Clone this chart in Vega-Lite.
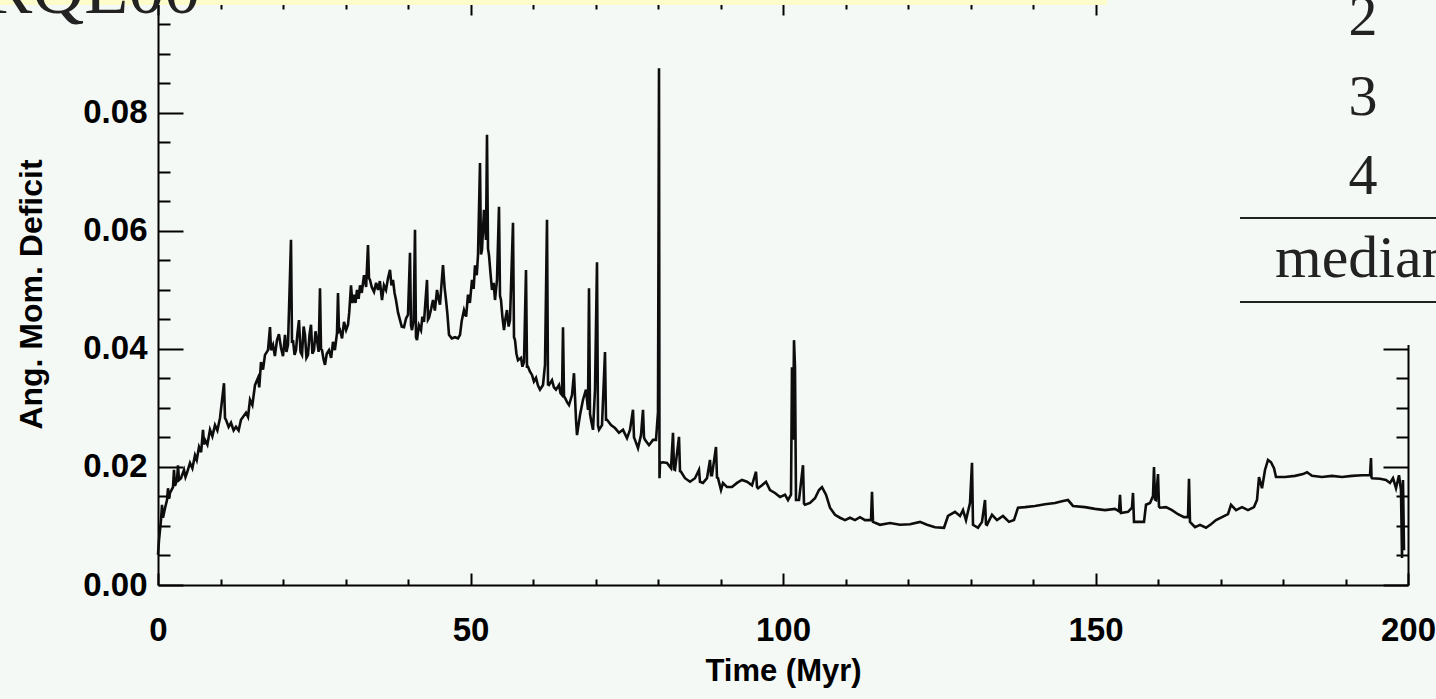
{
  "$schema": "https://vega.github.io/schema/vega-lite/v6.json",
  "width": 1250,
  "height": 582,
  "autosize": {"type": "none"},
  "padding": {"left": 158, "top": 3, "right": 28, "bottom": 114},
  "background": "#f5f9f6",
  "config": {"view": {"stroke": null}},
  "datasets": {
    "series": [
      {"t":0.0,"v":0.0051},{"t":0.16,"v":0.0076},{"t":0.32,"v":0.0093},{"t":0.48,"v":0.011},{"t":0.64,"v":0.0136},{"t":0.8,"v":0.0114},{"t":1.12,"v":0.013},{"t":1.44,"v":0.0144},{"t":1.6,"v":0.0164},{"t":1.76,"v":0.0146},{"t":1.92,"v":0.0156},{"t":2.4,"v":0.0166},{"t":2.56,"v":0.0195},{"t":2.72,"v":0.0168},{"t":3.04,"v":0.0178},{"t":3.2,"v":0.0203},{"t":3.36,"v":0.0178},{"t":3.68,"v":0.0181},{"t":4.16,"v":0.0195},{"t":4.4,"v":0.0183},{"t":4.64,"v":0.019},{"t":5.12,"v":0.0207},{"t":5.5,"v":0.0198},{"t":5.92,"v":0.022},{"t":6.2,"v":0.0212},{"t":6.56,"v":0.0234},{"t":6.9,"v":0.0225},{"t":7.2,"v":0.0263},{"t":7.36,"v":0.0238},{"t":7.52,"v":0.0246},{"t":7.9,"v":0.0238},{"t":8.32,"v":0.0263},{"t":8.7,"v":0.0252},{"t":9.12,"v":0.0271},{"t":9.5,"v":0.0262},{"t":9.92,"v":0.0283},{"t":10.56,"v":0.0342},{"t":10.72,"v":0.0283},{"t":10.88,"v":0.028},{"t":11.3,"v":0.0268},{"t":11.68,"v":0.0275},{"t":12.1,"v":0.0262},{"t":12.48,"v":0.0268},{"t":12.9,"v":0.0262},{"t":13.28,"v":0.028},{"t":14.08,"v":0.0292},{"t":14.4,"v":0.0285},{"t":14.72,"v":0.0314},{"t":15.1,"v":0.0305},{"t":15.52,"v":0.0339},{"t":16.0,"v":0.0351},{"t":16.2,"v":0.0335},{"t":16.48,"v":0.0378},{"t":16.8,"v":0.0365},{"t":17.12,"v":0.039},{"t":17.6,"v":0.0398},{"t":17.92,"v":0.0437},{"t":18.08,"v":0.0398},{"t":18.4,"v":0.0407},{"t":18.7,"v":0.0388},{"t":19.04,"v":0.0415},{"t":19.35,"v":0.0425},{"t":19.68,"v":0.0402},{"t":20.0,"v":0.0388},{"t":20.32,"v":0.0424},{"t":20.55,"v":0.0395},{"t":20.8,"v":0.0407},{"t":21.28,"v":0.0585},{"t":21.44,"v":0.041},{"t":21.6,"v":0.0415},{"t":21.85,"v":0.039},{"t":22.08,"v":0.0398},{"t":22.3,"v":0.0425},{"t":22.56,"v":0.0449},{"t":22.8,"v":0.0395},{"t":23.04,"v":0.039},{"t":23.3,"v":0.0438},{"t":23.52,"v":0.0424},{"t":23.75,"v":0.0385},{"t":24.0,"v":0.039},{"t":24.25,"v":0.0425},{"t":24.48,"v":0.0441},{"t":24.7,"v":0.0392},{"t":24.96,"v":0.0398},{"t":25.2,"v":0.043},{"t":25.44,"v":0.0415},{"t":25.7,"v":0.0395},{"t":25.92,"v":0.0503},{"t":26.08,"v":0.04},{"t":26.24,"v":0.0398},{"t":26.5,"v":0.0382},{"t":26.72,"v":0.0373},{"t":27.0,"v":0.0392},{"t":27.36,"v":0.0398},{"t":27.7,"v":0.0385},{"t":28.0,"v":0.0412},{"t":28.3,"v":0.0398},{"t":28.64,"v":0.0427},{"t":28.8,"v":0.0495},{"t":28.96,"v":0.043},{"t":29.12,"v":0.0432},{"t":29.45,"v":0.0418},{"t":29.76,"v":0.0446},{"t":30.1,"v":0.0432},{"t":30.4,"v":0.0441},{"t":30.6,"v":0.0462},{"t":30.88,"v":0.0508},{"t":31.1,"v":0.0478},{"t":31.36,"v":0.0492},{"t":31.6,"v":0.0478},{"t":31.84,"v":0.05},{"t":32.1,"v":0.0485},{"t":32.32,"v":0.0508},{"t":32.6,"v":0.0495},{"t":32.96,"v":0.0525},{"t":33.3,"v":0.0505},{"t":33.6,"v":0.0576},{"t":33.76,"v":0.052},{"t":33.92,"v":0.0517},{"t":34.2,"v":0.0505},{"t":34.56,"v":0.0497},{"t":34.9,"v":0.0512},{"t":35.2,"v":0.05},{"t":35.5,"v":0.0515},{"t":35.84,"v":0.0483},{"t":36.15,"v":0.0508},{"t":36.48,"v":0.05},{"t":36.8,"v":0.052},{"t":37.12,"v":0.0534},{"t":37.35,"v":0.0508},{"t":37.6,"v":0.0517},{"t":37.85,"v":0.0495},{"t":38.08,"v":0.0483},{"t":38.4,"v":0.0462},{"t":38.72,"v":0.0449},{"t":39.0,"v":0.0438},{"t":39.36,"v":0.0437},{"t":39.7,"v":0.0452},{"t":40.0,"v":0.0458},{"t":40.32,"v":0.0563},{"t":40.48,"v":0.044},{"t":40.64,"v":0.0432},{"t":40.9,"v":0.0448},{"t":41.12,"v":0.0602},{"t":41.28,"v":0.042},{"t":41.44,"v":0.0415},{"t":41.75,"v":0.044},{"t":42.08,"v":0.0432},{"t":42.3,"v":0.0455},{"t":42.56,"v":0.0446},{"t":43.04,"v":0.0517},{"t":43.2,"v":0.045},{"t":43.36,"v":0.0453},{"t":43.7,"v":0.0468},{"t":44.0,"v":0.0483},{"t":44.3,"v":0.0465},{"t":44.64,"v":0.05},{"t":44.9,"v":0.0485},{"t":45.12,"v":0.0475},{"t":45.4,"v":0.0515},{"t":45.6,"v":0.0542},{"t":45.85,"v":0.0505},{"t":46.08,"v":0.0483},{"t":46.3,"v":0.046},{"t":46.56,"v":0.0424},{"t":47.0,"v":0.0418},{"t":47.52,"v":0.042},{"t":48.0,"v":0.0418},{"t":48.32,"v":0.0424},{"t":48.6,"v":0.0448},{"t":48.96,"v":0.0466},{"t":49.3,"v":0.0455},{"t":49.6,"v":0.0492},{"t":49.9,"v":0.0478},{"t":50.24,"v":0.0517},{"t":50.5,"v":0.0502},{"t":50.72,"v":0.0542},{"t":51.0,"v":0.0525},{"t":51.2,"v":0.0559},{"t":51.52,"v":0.0715},{"t":51.68,"v":0.056},{"t":51.84,"v":0.0568},{"t":52.16,"v":0.0636},{"t":52.48,"v":0.0585},{"t":52.64,"v":0.0763},{"t":52.8,"v":0.057},{"t":52.96,"v":0.0559},{"t":53.2,"v":0.0528},{"t":53.44,"v":0.05},{"t":53.7,"v":0.0512},{"t":53.92,"v":0.0483},{"t":54.24,"v":0.0517},{"t":54.56,"v":0.0641},{"t":54.72,"v":0.049},{"t":54.88,"v":0.0483},{"t":55.1,"v":0.0455},{"t":55.36,"v":0.0432},{"t":55.6,"v":0.0452},{"t":55.84,"v":0.0466},{"t":56.1,"v":0.0438},{"t":56.32,"v":0.0449},{"t":56.8,"v":0.0614},{"t":56.96,"v":0.042},{"t":57.12,"v":0.0415},{"t":57.35,"v":0.0392},{"t":57.6,"v":0.0381},{"t":58.08,"v":0.0385},{"t":58.3,"v":0.037},{"t":58.56,"v":0.0378},{"t":58.88,"v":0.0534},{"t":59.04,"v":0.037},{"t":59.2,"v":0.037},{"t":59.5,"v":0.0362},{"t":59.84,"v":0.0356},{"t":60.15,"v":0.0345},{"t":60.48,"v":0.0351},{"t":60.8,"v":0.0338},{"t":61.12,"v":0.0331},{"t":61.6,"v":0.0339},{"t":61.92,"v":0.0373},{"t":62.24,"v":0.0619},{"t":62.4,"v":0.034},{"t":62.56,"v":0.0339},{"t":63.04,"v":0.0347},{"t":63.35,"v":0.0335},{"t":63.68,"v":0.0331},{"t":64.16,"v":0.0339},{"t":64.4,"v":0.0325},{"t":64.64,"v":0.0322},{"t":64.8,"v":0.0437},{"t":64.96,"v":0.032},{"t":65.12,"v":0.0317},{"t":65.45,"v":0.031},{"t":65.76,"v":0.0305},{"t":66.24,"v":0.0322},{"t":66.56,"v":0.0359},{"t":66.88,"v":0.028},{"t":67.04,"v":0.0254},{"t":67.52,"v":0.0288},{"t":68.0,"v":0.0314},{"t":68.48,"v":0.0331},{"t":68.8,"v":0.0297},{"t":68.96,"v":0.0503},{"t":69.12,"v":0.029},{"t":69.28,"v":0.028},{"t":69.6,"v":0.0263},{"t":69.92,"v":0.0331},{"t":70.24,"v":0.0547},{"t":70.4,"v":0.027},{"t":70.56,"v":0.0263},{"t":71.04,"v":0.0271},{"t":71.52,"v":0.0395},{"t":71.68,"v":0.028},{"t":71.84,"v":0.028},{"t":72.48,"v":0.0271},{"t":73.12,"v":0.0266},{"t":73.76,"v":0.0258},{"t":74.4,"v":0.0263},{"t":75.04,"v":0.0249},{"t":75.52,"v":0.0263},{"t":76.0,"v":0.0297},{"t":76.16,"v":0.025},{"t":76.32,"v":0.0246},{"t":76.8,"v":0.0232},{"t":77.28,"v":0.0254},{"t":77.6,"v":0.0297},{"t":77.76,"v":0.025},{"t":77.92,"v":0.0246},{"t":78.56,"v":0.0237},{"t":79.2,"v":0.0246},{"t":79.68,"v":0.0246},{"t":80.0,"v":0.0293},{"t":80.16,"v":0.0876},{"t":80.24,"v":0.0181},{"t":80.32,"v":0.0207},{"t":80.8,"v":0.0208},{"t":81.44,"v":0.0207},{"t":82.08,"v":0.0198},{"t":82.4,"v":0.0258},{"t":82.56,"v":0.0196},{"t":82.72,"v":0.0195},{"t":83.36,"v":0.0251},{"t":83.52,"v":0.0193},{"t":83.68,"v":0.0192},{"t":84.32,"v":0.0181},{"t":85.12,"v":0.0175},{"t":85.92,"v":0.0181},{"t":86.56,"v":0.0195},{"t":86.72,"v":0.0175},{"t":87.2,"v":0.0173},{"t":87.84,"v":0.0181},{"t":88.32,"v":0.0212},{"t":88.48,"v":0.0186},{"t":88.64,"v":0.0186},{"t":89.28,"v":0.0234},{"t":89.44,"v":0.0182},{"t":89.6,"v":0.0181},{"t":90.08,"v":0.0161},{"t":90.4,"v":0.0173},{"t":91.04,"v":0.0166},{"t":91.84,"v":0.0166},{"t":92.64,"v":0.0173},{"t":93.44,"v":0.0178},{"t":94.24,"v":0.0175},{"t":95.04,"v":0.0169},{"t":95.68,"v":0.0192},{"t":95.84,"v":0.0166},{"t":96.0,"v":0.0164},{"t":96.64,"v":0.0169},{"t":97.28,"v":0.0175},{"t":97.92,"v":0.0161},{"t":98.72,"v":0.0156},{"t":99.52,"v":0.0149},{"t":100.32,"v":0.0153},{"t":100.8,"v":0.0144},{"t":101.28,"v":0.0153},{"t":101.44,"v":0.0369},{"t":101.6,"v":0.0246},{"t":101.76,"v":0.0415},{"t":101.92,"v":0.0369},{"t":102.08,"v":0.0144},{"t":102.56,"v":0.0144},{"t":103.2,"v":0.0203},{"t":103.36,"v":0.0138},{"t":103.52,"v":0.0136},{"t":104.32,"v":0.0139},{"t":105.12,"v":0.0147},{"t":105.76,"v":0.0161},{"t":106.24,"v":0.0166},{"t":106.88,"v":0.0153},{"t":107.52,"v":0.0131},{"t":108.32,"v":0.0119},{"t":109.12,"v":0.0114},{"t":109.92,"v":0.011},{"t":110.72,"v":0.0114},{"t":111.52,"v":0.011},{"t":112.32,"v":0.0115},{"t":113.12,"v":0.011},{"t":114.08,"v":0.011},{"t":114.24,"v":0.0158},{"t":114.4,"v":0.0107},{"t":115.52,"v":0.0102},{"t":117.12,"v":0.0105},{"t":118.72,"v":0.0102},{"t":120.32,"v":0.0103},{"t":121.92,"v":0.0107},{"t":123.04,"v":0.0102},{"t":124.32,"v":0.0098},{"t":125.76,"v":0.0097},{"t":126.4,"v":0.0117},{"t":127.52,"v":0.0124},{"t":128.32,"v":0.0117},{"t":128.8,"v":0.0127},{"t":129.28,"v":0.011},{"t":129.92,"v":0.0139},{"t":130.24,"v":0.0207},{"t":130.4,"v":0.0102},{"t":131.2,"v":0.0097},{"t":131.84,"v":0.0107},{"t":132.32,"v":0.0144},{"t":132.48,"v":0.0103},{"t":132.64,"v":0.0102},{"t":133.44,"v":0.0119},{"t":134.24,"v":0.011},{"t":135.2,"v":0.0117},{"t":136.16,"v":0.0107},{"t":136.96,"v":0.011},{"t":137.6,"v":0.0131},{"t":138.72,"v":0.0132},{"t":140.32,"v":0.0134},{"t":141.92,"v":0.0137},{"t":143.52,"v":0.0139},{"t":144.64,"v":0.0142},{"t":145.6,"v":0.0144},{"t":146.4,"v":0.0134},{"t":148.32,"v":0.0132},{"t":149.92,"v":0.0129},{"t":151.52,"v":0.0127},{"t":153.12,"v":0.0129},{"t":153.76,"v":0.0125},{"t":153.92,"v":0.0153},{"t":154.08,"v":0.0122},{"t":155.2,"v":0.0124},{"t":155.84,"v":0.0131},{"t":156.0,"v":0.0156},{"t":156.16,"v":0.0107},{"t":157.76,"v":0.0107},{"t":158.08,"v":0.0136},{"t":158.72,"v":0.0139},{"t":159.2,"v":0.0151},{"t":159.36,"v":0.02},{"t":159.52,"v":0.0145},{"t":159.68,"v":0.0144},{"t":160.0,"v":0.0188},{"t":160.16,"v":0.0133},{"t":160.32,"v":0.0131},{"t":161.28,"v":0.0132},{"t":162.24,"v":0.0127},{"t":163.2,"v":0.012},{"t":164.16,"v":0.0115},{"t":164.8,"v":0.0115},{"t":164.96,"v":0.018},{"t":165.12,"v":0.0107},{"t":165.92,"v":0.0098},{"t":166.72,"v":0.0102},{"t":167.68,"v":0.0097},{"t":168.48,"v":0.0103},{"t":169.28,"v":0.011},{"t":170.24,"v":0.0115},{"t":171.2,"v":0.012},{"t":171.68,"v":0.0136},{"t":172.48,"v":0.0127},{"t":173.44,"v":0.0132},{"t":174.4,"v":0.0127},{"t":175.36,"v":0.0132},{"t":175.84,"v":0.0144},{"t":176.16,"v":0.0183},{"t":176.64,"v":0.0164},{"t":177.12,"v":0.0195},{"t":177.6,"v":0.0212},{"t":178.08,"v":0.0208},{"t":178.56,"v":0.0198},{"t":178.88,"v":0.0183},{"t":180.32,"v":0.0183},{"t":181.92,"v":0.0185},{"t":183.2,"v":0.0188},{"t":183.84,"v":0.0191},{"t":184.64,"v":0.0185},{"t":186.24,"v":0.0183},{"t":187.84,"v":0.0185},{"t":189.44,"v":0.0183},{"t":191.04,"v":0.0185},{"t":192.64,"v":0.0186},{"t":193.92,"v":0.0186},{"t":194.08,"v":0.0215},{"t":194.16,"v":0.0182},{"t":194.24,"v":0.0181},{"t":195.52,"v":0.018},{"t":196.48,"v":0.0178},{"t":197.12,"v":0.0173},{"t":197.6,"v":0.0181},{"t":198.08,"v":0.0164},{"t":198.56,"v":0.0186},{"t":198.88,"v":0.0161},{"t":199.04,"v":0.0046},{"t":199.2,"v":0.0178},{"t":199.36,"v":0.0059}
    ]
  },
  "resolve": {"axis": {"x": "independent", "y": "independent"}},
  "layer": [
    {
      "data": {"name": "series"},
      "mark": {"type": "line", "color": "#0d0d0d", "strokeWidth": 2.6, "clip": false},
      "encoding": {
        "x": {"field": "t", "type": "quantitative", "scale": {"domain": [0, 200], "nice": false, "zero": false},
          "axis": {"orient": "bottom", "title": "Time (Myr)", "values": [0,10,20,30,40,50,60,70,80,90,100,110,120,130,140,150,160,170,180,190,200],
            "format": "d", "labelExpr": "datum.value % 50 === 0 ? datum.label : ''",
            "tickSize": {"condition": {"test": "datum.value % 50 === 0", "value": -12}, "value": -6},
            "tickColor": "#000", "tickWidth": 2, "domainColor": "#000", "domainWidth": 2, "grid": false,
            "labelFont": "Liberation Sans", "labelFontWeight": "bold", "labelFontSize": 33, "labelColor": "#000",
            "labelPadding": 41, "labelOverlap": false, "labelFlush": false, "labelBound": false,
            "titleFont": "Liberation Sans", "titleFontWeight": "bold", "titleFontSize": 31, "titleColor": "#000", "titlePadding": 3}},
        "y": {"field": "v", "type": "quantitative", "scale": {"domain": [0, 0.09864], "nice": false, "zero": false},
          "axis": {"orient": "left", "title": "Ang. Mom. Deficit", "values": [0,0.005,0.01,0.015,0.02,0.025,0.03,0.035,0.04,0.045,0.05,0.055,0.06,0.065,0.07,0.075,0.08,0.085,0.09,0.095],
            "format": ".2f", "labelExpr": "round(datum.value*1000) % 20 === 0 ? datum.label : ''",
            "tickSize": {"condition": {"test": "round(datum.value*1000) % 20 === 0", "value": -25}, "value": -12},
            "tickColor": "#000", "tickWidth": 2, "domainColor": "#000", "domainWidth": 2, "grid": false,
            "labelFont": "Liberation Sans", "labelFontWeight": "bold", "labelFontSize": 33, "labelColor": "#000",
            "labelPadding": 36, "labelOverlap": false, "labelFlush": false, "labelBound": false,
            "titleFont": "Liberation Sans", "titleFontWeight": "bold", "titleFontSize": 32, "titleColor": "#000", "titlePadding": 34}}
      }
    },
    {
      "data": {"name": "series"},
      "mark": {"type": "line", "opacity": 0},
      "encoding": {
        "x": {"field": "t", "type": "quantitative", "scale": {"domain": [0, 200], "nice": false, "zero": false},
          "axis": {"orient": "top", "title": null, "labels": false, "values": [0,10,20,30,40,50,60,70,80,90,100,110,120,130,140,150,160,170,180,190,200],
            "tickSize": {"condition": {"test": "datum.value % 50 === 0", "value": -12}, "value": -6},
            "tickColor": "#000", "tickWidth": 2, "domainColor": "#000", "domainWidth": 2, "grid": false}},
        "y": {"field": "v", "type": "quantitative", "scale": {"domain": [0, 0.09864], "nice": false, "zero": false},
          "axis": {"orient": "right", "title": null, "labels": false, "values": [0,0.005,0.01,0.015,0.02,0.025,0.03,0.035,0.04,0.045,0.05,0.055,0.06,0.065,0.07,0.075,0.08,0.085,0.09,0.095],
            "tickSize": {"condition": {"test": "round(datum.value*1000) % 20 === 0", "value": -25}, "value": -12},
            "tickColor": "#000", "tickWidth": 2, "domainColor": "#000", "domainWidth": 2, "grid": false}}
      }
    },
    {
      "data": {"values": [
        {"x1": 151.84, "x2": 205, "y1": 0.04068, "y2": 0.0996, "c": "cover"},
        {"x1": -26, "x2": 151.84, "y1": 0.09831, "y2": 0.0996, "c": "yellow"}
      ]},
      "mark": {"type": "rect", "clip": false},
      "encoding": {
        "x": {"field": "x1", "type": "quantitative", "scale": {"domain": [0, 200], "nice": false, "zero": false}, "axis": null},
        "x2": {"field": "x2"},
        "y": {"field": "y1", "type": "quantitative", "scale": {"domain": [0, 0.09864], "nice": false, "zero": false}, "axis": null},
        "y2": {"field": "y2"},
        "color": {"field": "c", "type": "nominal", "scale": {"domain": ["cover", "yellow"], "range": ["#f5f9f6", "#fdfccb"]}, "legend": null}
      }
    },
    {
      "data": {"values": [
        {"x1": 173.12, "x2": 205, "y": 0.0622},
        {"x1": 173.12, "x2": 205, "y": 0.04797}
      ]},
      "mark": {"type": "rule", "color": "#222222", "strokeWidth": 2, "clip": false},
      "encoding": {
        "x": {"field": "x1", "type": "quantitative", "scale": {"domain": [0, 200], "nice": false, "zero": false}, "axis": null},
        "x2": {"field": "x2"},
        "y": {"field": "y", "type": "quantitative", "scale": {"domain": [0, 0.09864], "nice": false, "zero": false}, "axis": null}
      }
    },
    {
      "data": {"values": [
        {"x": 192.8, "y": 0.09322, "s": "2"},
        {"x": 192.8, "y": 0.07966, "s": "3"},
        {"x": 192.8, "y": 0.06627, "s": "4"}
      ]},
      "mark": {"type": "text", "align": "center", "baseline": "alphabetic", "font": "Liberation Serif", "fontSize": 58, "color": "#222222", "clip": false},
      "encoding": {
        "x": {"field": "x", "type": "quantitative", "scale": {"domain": [0, 200], "nice": false, "zero": false}, "axis": null},
        "y": {"field": "y", "type": "quantitative", "scale": {"domain": [0, 0.09864], "nice": false, "zero": false}, "axis": null},
        "text": {"field": "s"}
      }
    },
    {
      "data": {"values": [
        {"x": 178.72, "y": 0.0522, "s": "median", "fs": "m"},
        {"x": -27.8, "y": 0.0969, "s": "RQE00", "fs": "r"}
      ]},
      "mark": {"type": "text", "align": "left", "baseline": "alphabetic", "font": "Liberation Serif", "color": "#222222", "clip": false},
      "encoding": {
        "x": {"field": "x", "type": "quantitative", "scale": {"domain": [0, 200], "nice": false, "zero": false}, "axis": null},
        "y": {"field": "y", "type": "quantitative", "scale": {"domain": [0, 0.09864], "nice": false, "zero": false}, "axis": null},
        "text": {"field": "s"},
        "size": {"field": "fs", "type": "nominal", "scale": {"domain": ["m", "r"], "range": [60, 72]}, "legend": null}
      }
    }
  ]
}
